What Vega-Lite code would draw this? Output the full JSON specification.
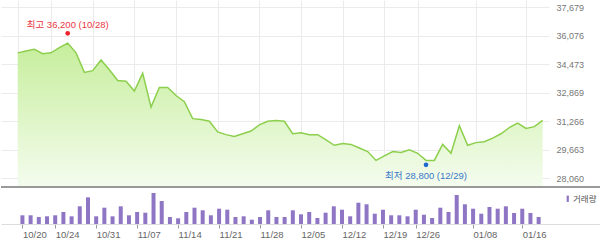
{
  "$schema": "https://vega.github.io/schema/vega-lite/v6.json",
  "padding": 0,
  "autosize": {"type": "pad"},
  "background": "white",
  "spacing": 0,
  "resolve": {"scale": {"color": "independent"}},
  "config": {"view": {"stroke": null}, "font": "Liberation Sans, Noto Sans CJK KR"},
  "datasets": {
    "price": [
      {"i": 0, "d": "10/20", "close": 35100, "vol": 87000},
      {"i": 1, "d": "10/21", "close": 35200, "vol": 87000},
      {"i": 2, "d": "10/22", "close": 35300, "vol": 70000},
      {"i": 3, "d": "10/23", "close": 35050, "vol": 77000},
      {"i": 4, "d": "10/24", "close": 35100, "vol": 87000},
      {"i": 5, "d": "10/27", "close": 35400, "vol": 120000},
      {"i": 6, "d": "10/28", "close": 35650, "vol": 77000},
      {"i": 7, "d": "10/29", "close": 35100, "vol": 177000},
      {"i": 8, "d": "10/30", "close": 34000, "vol": 267000},
      {"i": 9, "d": "10/31", "close": 34100, "vol": 77000},
      {"i": 10, "d": "11/03", "close": 34700, "vol": 163000},
      {"i": 11, "d": "11/04", "close": 34150, "vol": 77000},
      {"i": 12, "d": "11/05", "close": 33550, "vol": 177000},
      {"i": 13, "d": "11/06", "close": 33500, "vol": 87000},
      {"i": 14, "d": "11/07", "close": 32950, "vol": 120000},
      {"i": 15, "d": "11/10", "close": 33950, "vol": 113000},
      {"i": 16, "d": "11/11", "close": 32050, "vol": 310000},
      {"i": 17, "d": "11/12", "close": 33150, "vol": 230000},
      {"i": 18, "d": "11/13", "close": 33150, "vol": 70000},
      {"i": 19, "d": "11/14", "close": 32700, "vol": 57000},
      {"i": 20, "d": "11/17", "close": 32350, "vol": 120000},
      {"i": 21, "d": "11/18", "close": 31400, "vol": 163000},
      {"i": 22, "d": "11/19", "close": 31350, "vol": 137000},
      {"i": 23, "d": "11/20", "close": 31250, "vol": 87000},
      {"i": 24, "d": "11/21", "close": 30650, "vol": 153000},
      {"i": 25, "d": "11/24", "close": 30500, "vol": 143000},
      {"i": 26, "d": "11/25", "close": 30400, "vol": 70000},
      {"i": 27, "d": "11/26", "close": 30550, "vol": 77000},
      {"i": 28, "d": "11/27", "close": 30700, "vol": 43000},
      {"i": 29, "d": "11/28", "close": 31050, "vol": 70000},
      {"i": 30, "d": "12/01", "close": 31250, "vol": 137000},
      {"i": 31, "d": "12/02", "close": 31300, "vol": 70000},
      {"i": 32, "d": "12/03", "close": 31250, "vol": 70000},
      {"i": 33, "d": "12/04", "close": 30550, "vol": 137000},
      {"i": 34, "d": "12/05", "close": 30600, "vol": 97000},
      {"i": 35, "d": "12/08", "close": 30500, "vol": 120000},
      {"i": 36, "d": "12/09", "close": 30500, "vol": 60000},
      {"i": 37, "d": "12/10", "close": 30200, "vol": 113000},
      {"i": 38, "d": "12/11", "close": 29900, "vol": 177000},
      {"i": 39, "d": "12/12", "close": 30000, "vol": 143000},
      {"i": 40, "d": "12/15", "close": 29950, "vol": 77000},
      {"i": 41, "d": "12/16", "close": 29750, "vol": 213000},
      {"i": 42, "d": "12/17", "close": 29550, "vol": 197000},
      {"i": 43, "d": "12/18", "close": 29050, "vol": 103000},
      {"i": 44, "d": "12/19", "close": 29300, "vol": 143000},
      {"i": 45, "d": "12/22", "close": 29550, "vol": 87000},
      {"i": 46, "d": "12/23", "close": 29500, "vol": 87000},
      {"i": 47, "d": "12/24", "close": 29650, "vol": 77000},
      {"i": 48, "d": "12/26", "close": 29450, "vol": 143000},
      {"i": 49, "d": "12/29", "close": 29050, "vol": 93000},
      {"i": 50, "d": "12/30", "close": 29050, "vol": 60000},
      {"i": 51, "d": "01/02", "close": 29950, "vol": 163000},
      {"i": 52, "d": "01/05", "close": 29450, "vol": 120000},
      {"i": 53, "d": "01/06", "close": 31000, "vol": 290000},
      {"i": 54, "d": "01/07", "close": 29900, "vol": 197000},
      {"i": 55, "d": "01/08", "close": 30050, "vol": 153000},
      {"i": 56, "d": "01/09", "close": 30100, "vol": 103000},
      {"i": 57, "d": "01/12", "close": 30300, "vol": 170000},
      {"i": 58, "d": "01/13", "close": 30550, "vol": 153000},
      {"i": 59, "d": "01/14", "close": 30900, "vol": 177000},
      {"i": 60, "d": "01/15", "close": 31150, "vol": 110000},
      {"i": 61, "d": "01/16", "close": 30850, "vol": 153000},
      {"i": 62, "d": "01/19", "close": 30950, "vol": 110000},
      {"i": 63, "d": "01/20", "close": 31300, "vol": 70000}
    ],
    "peaks": [
      {"i": 6, "d": "10/28", "close": 36200, "kind": "high", "label": "최고 36,200 (10/28)"},
      {"i": 49, "d": "12/29", "close": 28800, "kind": "low", "label": "최저 28,800 (12/29)"}
    ]
  },
  "vconcat": [
    {
      "width": 548,
      "height": 186,
      "encoding": {
        "x": {"field": "i", "type": "quantitative", "scale": {"domain": [-2.004, 63.76], "nice": false, "zero": false},
          "axis": {"values": [0, 4, 9, 14, 19, 24, 29, 34, 39, 44, 48, 55, 61], "labels": false, "ticks": false, "domain": false, "grid": true, "gridColor": "#ebebeb", "title": null}},
        "y": {"field": "close", "type": "quantitative", "scale": {"domain": [27610, 38073.75], "nice": false, "zero": false},
          "axis": {"orient": "right", "values": [28060, 29663, 31266, 32869, 34473, 36076, 37679], "format": ",.0f", "grid": true, "gridColor": "#ebebeb", "domain": false, "ticks": false, "labelFontSize": 9, "labelColor": "#777777", "labelPadding": 7, "title": null}}
      },
      "layer": [
        {
          "data": {"name": "price"},
          "mark": {"type": "area", "line": false, "color": {"gradient": "linear", "x1": 0, "y1": 0, "x2": 0, "y2": 1, "stops": [{"offset": 0, "color": "#c6ee9c"}, {"offset": 1, "color": "#f4fcee"}]}},
          "encoding": {"y2": {"datum": 27610}}
        },
        {
          "data": {"name": "price"},
          "mark": {"type": "line", "color": "#8ccf4c", "strokeWidth": 1.5},
          "encoding": {}
        },
        {
          "data": {"name": "peaks"},
          "transform": [{"filter": "datum.kind === 'high'"}],
          "mark": {"type": "point", "filled": true, "size": 22, "color": "#f0222b", "opacity": 1},
          "encoding": {}
        },
        {
          "data": {"name": "peaks"},
          "transform": [{"filter": "datum.kind === 'high'"}],
          "mark": {"type": "text", "dy": -8.5, "fontSize": 9.5, "color": "#e8383f", "align": "center", "baseline": "middle"},
          "encoding": {"text": {"field": "label"}}
        },
        {
          "data": {"name": "peaks"},
          "transform": [{"filter": "datum.kind === 'low'"}],
          "mark": {"type": "point", "filled": true, "size": 22, "color": "#1f68d0", "opacity": 1},
          "encoding": {}
        },
        {
          "data": {"name": "peaks"},
          "transform": [{"filter": "datum.kind === 'low'"}],
          "mark": {"type": "text", "dy": 10.7, "fontSize": 9.5, "color": "#3a78c8", "align": "center", "baseline": "middle"},
          "encoding": {"text": {"field": "label"}}
        }
      ]
    },
    {
      "width": 600,
      "height": 37,
      "data": {"name": "price"},
      "layer": [
        {
          "mark": {"type": "bar", "width": 4},
          "encoding": {
            "x": {"field": "i", "type": "quantitative", "scale": {"domain": [-2.004, 70.0], "nice": false, "zero": false},
              "axis": {"values": [0, 4, 9, 14, 19, 24, 29, 34, 39, 44, 48, 55, 61], "labelExpr": "{'0':'10/20','4':'10/24','9':'10/31','14':'11/07','19':'11/14','24':'11/21','29':'11/28','34':'12/05','39':'12/12','44':'12/19','48':'12/26','55':'01/08','61':'01/16'}[datum.value]", "labelAlign": "left", "labelAngle": 0, "labelFontSize": 9.5, "labelColor": "#666666", "labelPadding": 1, "labelOverlap": false, "labelFlush": false, "tickColor": "#999999", "tickSize": 4, "domain": true, "domainColor": "#dddddd", "grid": false, "title": null}},
            "y": {"field": "vol", "type": "quantitative", "scale": {"domain": [0, 370000], "nice": false}, "axis": null},
            "color": {"datum": "거래량", "scale": {"range": ["#8e76c4"]},
              "legend": {"orient": "none", "legendX": 562.5, "legendY": 7.5, "title": null, "padding": 0, "symbolType": "M-0.35,-1H0.35V1H-0.35Z", "symbolSize": 40, "symbolStrokeWidth": 0, "labelFontSize": 8.5, "labelColor": "#555555", "labelOffset": 1}}
          }
        },
        {
          "mark": {"type": "rule", "color": "#999999", "strokeWidth": 1},
          "encoding": {"y": {"datum": 370000}}
        }
      ]
    }
  ]
}
